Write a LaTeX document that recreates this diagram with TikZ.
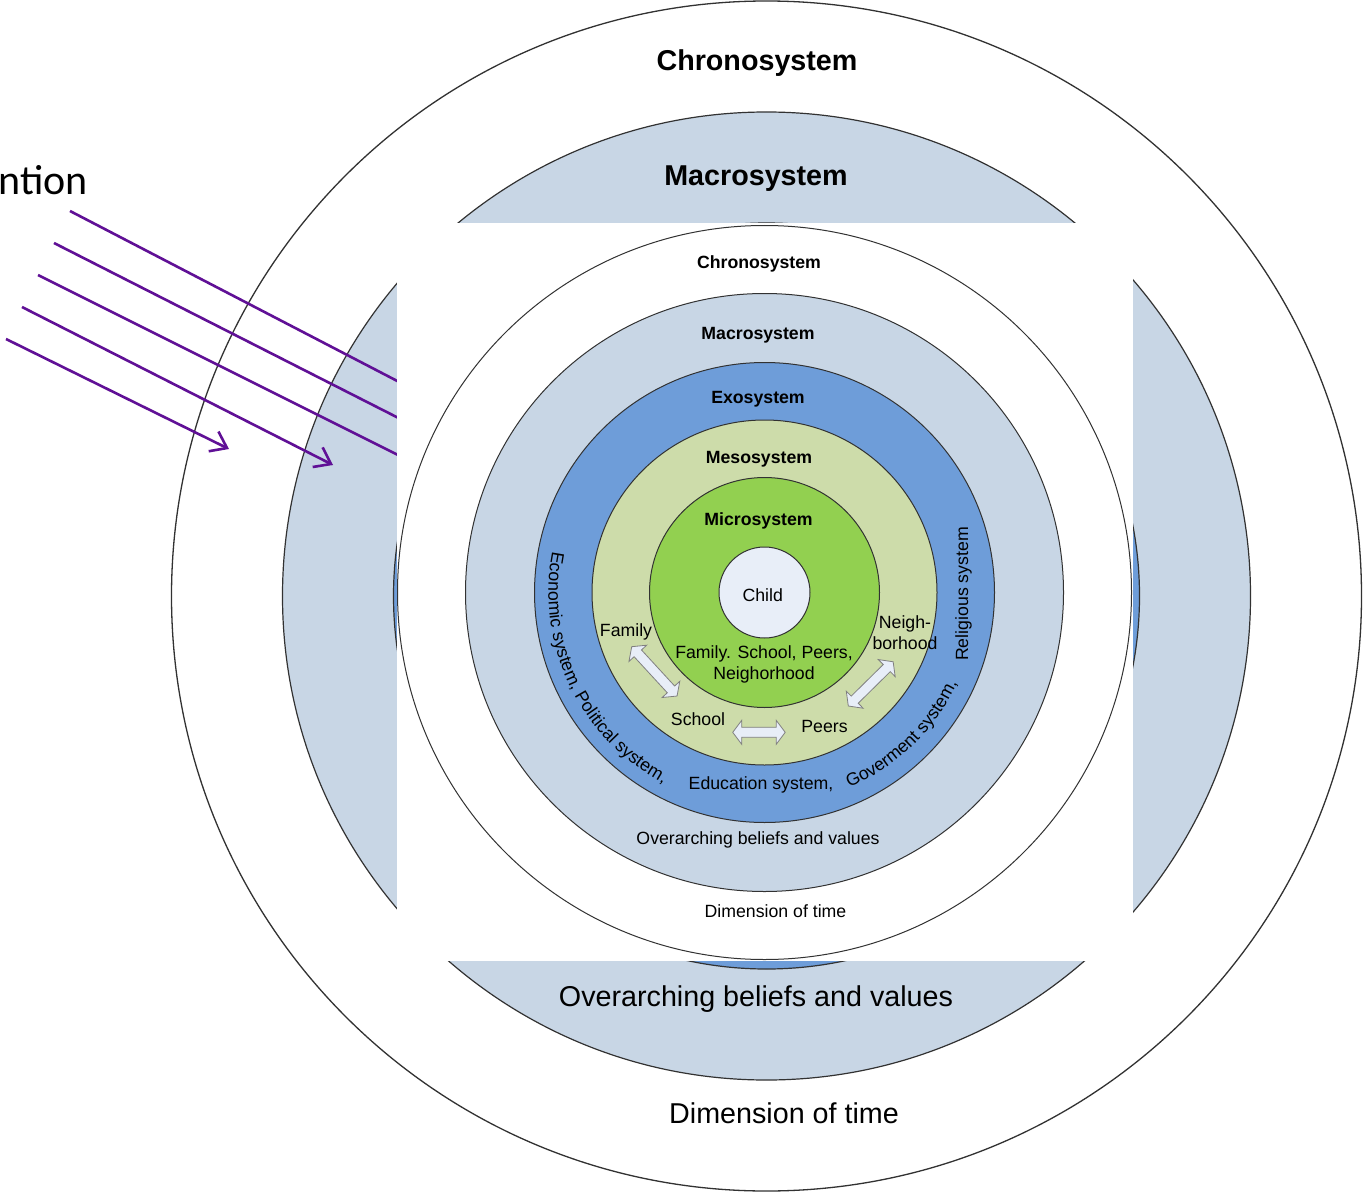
\documentclass[tikz,border=0pt]{standalone}
\usepackage{fontspec}
\setmainfont{Liberation Sans}
\newfontfamily\calibrifont{Carlito}
\usetikzlibrary{arrows.meta,decorations.text}
\definecolor{macroC}{RGB}{200,214,229}
\definecolor{exoC}{RGB}{110,157,217}
\definecolor{mesoC}{RGB}{205,220,170}
\definecolor{microC}{RGB}{146,208,80}
\definecolor{childC}{RGB}{232,238,248}
\definecolor{purpleC}{RGB}{96,16,150}
\definecolor{ringline}{RGB}{50,50,50}
\newcommand\dblblock[3]{%
  \begin{scope}[shift={#1}, rotate=#2]
    \draw[blockarr] (0,0) -- (9,12) -- (9,5) -- (#3-9,5) -- (#3-9,12) -- (#3,0)
      -- (#3-9,-12) -- (#3-9,-5) -- (9,-5) -- (9,-12) -- cycle;
  \end{scope}}
\begin{document}
\begin{tikzpicture}[x=1pt,y=1pt,
  ring/.style={circle, draw=ringline, line width=1pt, inner sep=0pt, outer sep=0pt},
  smalltxt/.style={font=\fontsize{17.7}{21}\selectfont, inner sep=0pt},
  smallbold/.style={font=\fontsize{17.7}{21}\selectfont\bfseries, inner sep=0pt},
  bigtxt/.style={font=\fontsize{28.7}{34}\selectfont, inner sep=0pt},
  bigbold/.style={font=\fontsize{28.7}{34}\selectfont\bfseries, inner sep=0pt},
  ray/.style={draw=purpleC, line width=2.6pt},
  rayarrow/.style={ray, -{Straight Barb[length=15pt,width=22pt]}},
  blockarr/.style={draw=gray, fill=childC, line width=0.8pt, line join=miter},
  curvetext/.style={decorate, decoration={text along path, text align=left, text={#1}}},
]
\useasboundingbox (0,0) rectangle (1365,-1193);
\fill[white] (0,0) rectangle (1365,-1193);

% ---------- outer (large) diagram ----------
\coordinate (oc) at (766.5,-596);
\node[ring, line width=1.3pt, fill=white, minimum size=1190] (oChronoRing) at (oc) {};
\node[ring, line width=1.2pt, fill=macroC, minimum size=968] (oMacroRing) at (oc) {};
\node[ring, line width=1.2pt, fill=exoC, minimum size=746] (oExoRing) at (oc) {};

\node[bigbold, anchor=base] (oChronoLbl) at (757,-71) {Chronosystem};
\node[bigbold, anchor=base] (oMacroLbl) at (756,-186) {Macrosystem};
\node[bigtxt, anchor=base] (oBeliefs) at (756,-1006) {Overarching beliefs and values};
\node[bigtxt, anchor=base] (oTime) at (784,-1123) {Dimension of time};

% ---------- intervention rays ----------
\node[font=\calibrifont\fontsize{42}{48}\selectfont, anchor=base east, inner sep=0pt] (interv) at (88,-195) {ntion};
\coordinate (r1s) at (70,-211);  \coordinate (r1e) at (430,-398);
\coordinate (r2s) at (54,-243);  \coordinate (r2e) at (430,-434);
\coordinate (r3s) at (38,-275);  \coordinate (r3e) at (430,-471);
\coordinate (r4s) at (22,-307);  \coordinate (r4e) at (333,-465);
\coordinate (r5s) at (6,-339);   \coordinate (r5e) at (229,-449);
\draw[ray] (r1s) -- (r1e);
\draw[ray] (r2s) -- (r2e);
\draw[ray] (r3s) -- (r3e);
\draw[rayarrow] (r4s) -- (r4e);
\draw[rayarrow] (r5s) -- (r5e);

% ---------- white panel ----------
\node[fill=white, inner sep=0pt, minimum width=736.5, minimum height=737.5] (panel) at (764.75,-592.25) {};

% ---------- inner diagram ----------
\coordinate (ic) at (764.5,-592.5);
\node[ring, fill=white, minimum size=734] (iChronoRing) at (ic) {};
\node[ring, fill=macroC, minimum size=598] (iMacroRing) at (ic) {};
\node[ring, fill=exoC, minimum size=460] (iExoRing) at (ic) {};
\node[ring, fill=mesoC, minimum size=345] (iMesoRing) at (ic) {};
\node[ring, fill=microC, minimum size=230] (iMicroRing) at (ic) {};
\node[ring, fill=childC, minimum size=91] (iChild) at (ic) {};

\node[smallbold, anchor=base] (iChronoLbl) at (759,-268) {Chronosystem};
\node[smallbold, anchor=base] (iMacroLbl) at (758,-339) {Macrosystem};
\node[smallbold, anchor=base] (iExoLbl) at (758,-403) {Exosystem};
\node[smallbold, anchor=base] (iMesoLbl) at (759,-463) {Mesosystem};
\node[smallbold, anchor=base] (iMicroLbl) at (758.5,-525) {Microsystem};
\node[smalltxt, anchor=base] (childLbl) at (762.7,-601) {Child};
\node[smalltxt, anchor=north, align=center] (microList) at (764,-645.3) {Family. School, Peers,\\Neighorhood};
\node[smalltxt, anchor=base] (famLbl) at (626,-636) {Family};
\node[smalltxt, anchor=north, align=center] (neighLbl) at (905,-615.3) {Neigh-\\borhood};
\node[smalltxt, anchor=base] (schoolLbl) at (698,-725) {School};
\node[smalltxt, anchor=base] (peersLbl) at (824.5,-732) {Peers};
\node[smalltxt, anchor=base] (iBeliefs) at (758,-844) {Overarching beliefs and values};
\node[smalltxt, anchor=base] (iTime) at (775.5,-917) {Dimension of time};

% block double arrows between mesosystem settings
\coordinate (fsA) at (631.7,-646.7);
\coordinate (spA) at (732.7,-732.3);
\coordinate (pnA) at (848.3,-706);
\dblblock{(fsA)}{-47.4}{67}
\dblblock{(spA)}{0}{52.5}
\dblblock{(pnA)}{44.6}{63}

% exosystem systems text
\node[smalltxt, anchor=base] (eduLbl) at (761,-789) {Education system,};
\node[smalltxt, anchor=base, rotate=90] (relLbl) at (968,-594) {Religious system};
\begin{scope}[shift={(ic)}]
  \path[curvetext={|\fontsize{17.7}{21}\selectfont|Economic system, Political system,}]
    (169:216) arc[start angle=169, end angle=248, radius=216];
  \path[curvetext={|\fontsize{17.7}{21}\selectfont|Goverment system,}]
    (293.5:213) arc[start angle=293.5, end angle=340, radius=213];
\end{scope}
\end{tikzpicture}
\end{document}
